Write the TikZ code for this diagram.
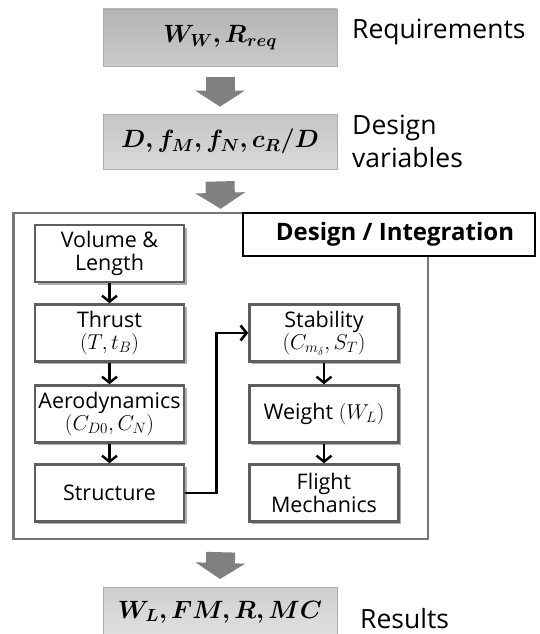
\documentclass[tikz,border=0pt]{standalone}
\usepackage{fix-cm}
\usepackage{amsmath,bm}
\usepackage{fontspec}
\usetikzlibrary{arrows.meta,shadows}
\newfontfamily\labfont{Open Sans}
\definecolor{boxline}{HTML}{5E5E5E}
\definecolor{frameline}{HTML}{767676}
\definecolor{blockarr}{HTML}{808080}
\begin{document}
\begin{tikzpicture}[x=1pt,y=-1pt,
  graybox/.style={draw=gray!65, line width=0.8pt, minimum width=234pt, minimum height=57pt,
    inner sep=0pt, font=\fontsize{25}{29}\selectfont},
  procbox/.style={draw=boxline, line width=2.6pt, fill=white, minimum width=149pt, minimum height=57pt,
    inner sep=1pt, align=center, font=\labfont\fontsize{21.5}{22.5}\selectfont,
    drop shadow={shadow xshift=2.5pt, shadow yshift=-2.5pt, opacity=0.45, fill=black!70}},
  side/.style={font=\labfont\fontsize{26.5}{30}\selectfont, inner sep=0pt},
  blockarrow/.style={line width=29pt, draw=blockarr, -{Triangle[length=16pt,width=49pt,fill=blockarr]}},
  smallarr/.style={line width=2.4pt, -{Straight Barb[length=6pt,width=15pt]}},
  conn/.style={line width=2.6pt, -{Straight Barb[length=6pt,width=15pt]}},
  framebox/.style={draw=frameline, line width=2.4pt, minimum width=414.6pt, minimum height=326pt, inner sep=0pt},
  labelbox/.style={draw=black, line width=1.4pt, fill=white, minimum width=292pt, minimum height=43pt,
    inner sep=0pt, font=\labfont\bfseries\fontsize{24}{26}\selectfont}
]
\useasboundingbox (0,0) rectangle (539,634);

% gray boxes
\node[graybox, top color=gray!58, bottom color=gray!42, minimum height=57pt] (req) at (220,37.5) {$\boldsymbol{W_W, R_{req}}$};
\node[graybox, top color=gray!45, bottom color=gray!30, minimum height=55pt] (dv) at (220,141.5) {$\boldsymbol{D, f_M, f_N, c_R/D}$};
\node[graybox, top color=gray!38, bottom color=gray!22, minimum height=56pt, anchor=north] (res) at (220,587) {};
\node[font=\fontsize{25}{29}\selectfont, inner sep=0pt] (restext) at (220,612) {$\boldsymbol{W_L, FM, R, MC}$};

% side labels
\node[side, anchor=base west] (reqlab) at (352,38) {Requirements};
\node[side, anchor=base west] (dvlab1) at (352,134) {Design};
\node[side, anchor=base west] (dvlab2) at (352,167) {variables};
\node[side, anchor=base west] (reslab) at (360,628) {Results};

% frame
\node[framebox] (frame) at (220.7,376) {};
\node[labelbox] (lab) at (389,234.5) {\hspace*{12pt}Design / Integration};

% block arrows
\draw[blockarrow] ([yshift=-11pt]req.south) -- ([yshift=7pt]dv.north);
\draw[blockarrow] ([yshift=-12pt]dv.south) -- ([yshift=3pt]frame.north);
\draw[blockarrow] ([yshift=-12pt]frame.south) -- ([yshift=8pt]res.north);

% process boxes
\node[procbox] (vol) at (109.5,253.5) {Volume \&\\Length};
\node[procbox] (thr) at (109.5,333) {Thrust\\$(T, t_B)$};
\node[procbox] (aero) at (109.5,414) {Aerodynamics\\$(C_{D0}, C_N)$};
\node[procbox] (str) at (109.5,493) {Structure};
\node[procbox] (stab) at (324,333) {Stability\\$(C_{m_\delta}, S_T)$};
\node[procbox] (wt) at (324,414) {Weight $(W_L)$};
\node[procbox] (fm) at (324,493) {Flight\\Mechanics};

% connectors
\draw[smallarr] (vol.south) -- (thr.north);
\draw[smallarr] (thr.south) -- (aero.north);
\draw[smallarr] (aero.south) -- (str.north);
\draw[smallarr] (stab.south) -- (wt.north);
\draw[smallarr] (wt.south) -- (fm.north);
\draw[conn] (str.east) -- ++(31,0) coordinate (bend) |- (stab.west);
\end{tikzpicture}
\end{document}
